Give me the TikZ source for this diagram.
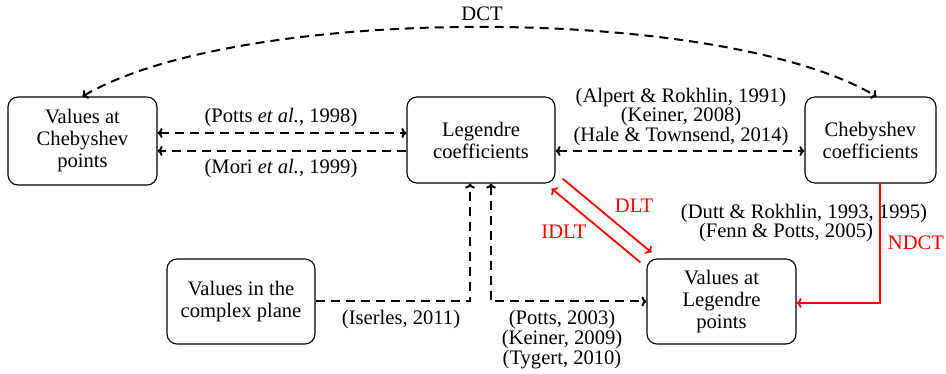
\documentclass[tikz,border=0pt]{standalone}
\usepackage{fontspec}
\setmainfont{Liberation Serif}
\usetikzlibrary{calc,arrows.meta}
\begin{document}
\begin{tikzpicture}[x=1pt,y=-1pt,
  every node/.style={font=\fontsize{20.6}{22}\selectfont},
  box/.style={draw,line width=1.1pt,rounded corners=10pt,align=center,inner sep=0pt},
  conn/.style={line width=2pt,dash pattern=on 9pt off 6pt},
  redconn/.style={line width=1.8pt,red},
  lbl/.style={align=center,inner sep=0pt},
]
\useasboundingbox (0,0) rectangle (946,374);
\node[box,minimum width=149pt,minimum height=88pt] (A) at (82.5,141) {Values at\\Chebyshev\\points};
\node[box,minimum width=148pt,minimum height=86pt] (B) at (481,140) {Legendre\\coefficients};
\node[box,minimum width=131pt,minimum height=86pt] (C) at (870.5,140) {Chebyshev\\coefficients};
\node[box,minimum width=148pt,minimum height=85pt] (D) at (241,301.5) {Values in the\\complex plane};
\node[box,minimum width=149pt,minimum height=85pt] (E) at (721.5,301.5) {Values at\\Legendre\\points};

% Potts 1998
\draw[conn,{To[length=5pt,width=10pt]}-{To[length=5pt,width=10pt]}] ($(A.east)+(0,-8)$) -- ($(B.west)+(0,-7)$);
\node[lbl] (l1) at (281,118) {(Potts \textit{et al.}, 1998)};
% Mori 1999
\draw[conn,-{To[length=5pt,width=10pt]}] ($(B.west)+(0,11)$) -- ($(A.east)+(0,10)$);
\node[lbl] (l2) at (281,169) {(Mori \textit{et al.}, 1999)};
% B <-> C
\draw[conn,{To[length=5pt,width=10pt]}-{To[length=5pt,width=10pt]}] ($(B.east)+(0,11)$) -- ($(C.west)+(0,11)$);
\node[lbl,font=\fontsize{20.6}{18}\selectfont] (l3) at (681,117) {(Alpert \& Rokhlin, 1991)\\(Keiner, 2008)\\(Hale \& Townsend, 2014)};
% DCT
\coordinate (dctR) at ($(C.north)+(6,0)$);
\draw[conn,{To[length=5pt,width=10pt]}-{To[length=5pt,width=10pt]}] (A.north) .. controls (240,4) and (720,4) .. (dctR);
\node[lbl] (l4) at (482,14) {DCT};
% Iserles
\coordinate (bIs) at ($(B.south)+(-11,0)$);
\draw[conn,-{To[length=5pt,width=10pt]}] (D.east) -| (bIs);
\node[lbl] (l5) at (401,320) {(Iserles, 2011)};
% Potts 2003
\coordinate (bPo) at ($(B.south)+(10,0)$);
\draw[conn,{To[length=5pt,width=10pt]}-{To[length=5pt,width=10pt]}] (bPo) |- (E.west);
\node[lbl,font=\fontsize{20.6}{20}\selectfont] (l6) at (562,340) {(Potts, 2003)\\(Keiner, 2009)\\(Tygert, 2010)};
% DLT / IDLT
\coordinate (d1) at ($(B.south east)+(7,-5)$);
\coordinate (d2) at ($(E.north west)+(5,-6)$);
\coordinate (i1) at ($(E.north west)+(-6,4)$);
\coordinate (i2) at ($(B.south east)+(-4,5)$);
\draw[redconn,-{To[length=5pt,width=10pt]}] (d1) -- (d2);
\draw[redconn,-{To[length=5pt,width=10pt]}] (i1) -- (i2);
\node[lbl,red] (l7) at (634,206) {DLT};
\node[lbl,red] (l8) at (564,232) {IDLT};
% NDCT
\coordinate (cN) at ($(C.south)+(9.5,0)$);
\draw[redconn,-{To[length=5pt,width=10pt]}] (cN) |- ($(E.east)+(0,1.5)$);
\node[lbl,red] (l9) at (916,243) {NDCT};
\node[lbl] (l10) at (804,214) {(Dutt \& Rokhlin, 1993, 1995)};
\node[lbl] (l11) at (786,233) {(Fenn \& Potts, 2005)};
\end{tikzpicture}
\end{document}
